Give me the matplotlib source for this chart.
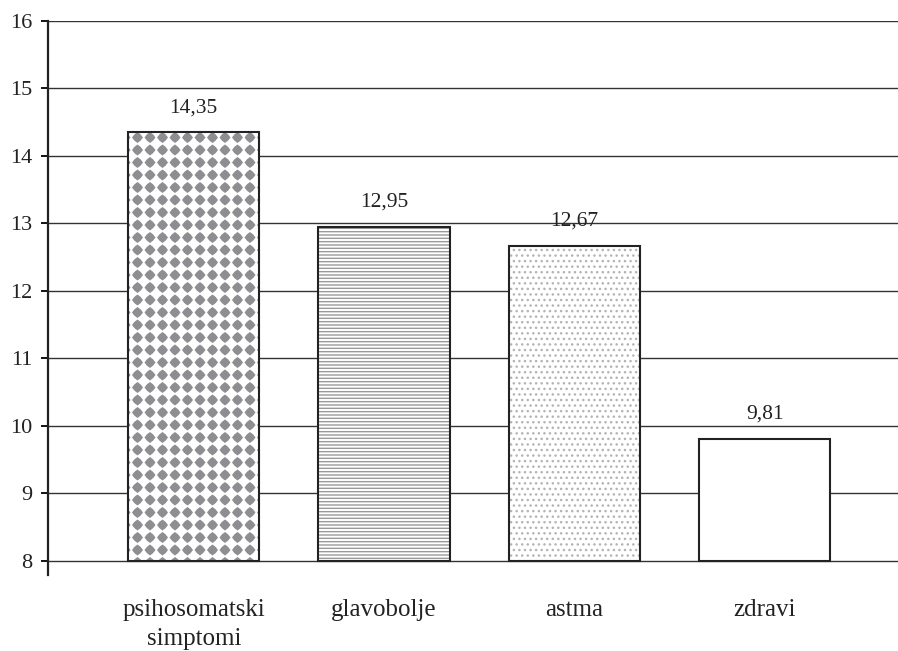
"""Bar chart: mean scores by group."""

import warnings

import numpy as np
import matplotlib
matplotlib.use("Agg")
import matplotlib.pyplot as plt
import matplotlib.hatch as mhatch
from matplotlib.path import Path

warnings.filterwarnings("ignore")

categories = ["psihosomatski\nsimptomi", "glavobolje", "astma", "zdravi"]
values = [14.35, 12.95, 12.67, 9.81]
y_ticks = [8, 9, 10, 11, 12, 13, 14, 15, 16]
base = 8


class SquareDots(mhatch.HatchPatternBase):
    """Filled rounded diamonds on a square grid, hatch letter 'd'."""

    size = 0.37

    def __init__(self, hatch, density):
        self.num_rows = hatch.count('d') * 8
        self.num_vertices = (self.num_rows + 1) ** 2 * 9 if self.num_rows else 0

    def set_vertices_and_codes(self, vertices, codes):
        n = self.num_rows
        step = 1.0 / n
        r = self.size * step
        ang = np.linspace(-np.pi / 2, 1.5 * np.pi, 9)
        rad = np.where(np.arange(9) % 2 == 0, r, 0.8 * r)
        shape = np.column_stack([rad * np.cos(ang), rad * np.sin(ang)])
        shape_codes = [Path.MOVETO] + [Path.LINETO] * 7 + [Path.CLOSEPOLY]
        k = 0
        for i in range(n + 1):
            for j in range(n + 1):
                vertices[k:k + 9] = shape + [j * step, i * step]
                codes[k:k + 9] = shape_codes
                k += 9


mhatch._hatch_types.append(SquareDots)

plt.rcParams['font.family'] = ['Liberation Serif', 'DejaVu Serif']
text_color = '#222222'

fig = plt.figure(figsize=(8.98, 6.51), dpi=100)
ax = fig.add_axes([48 / 898, 1 - 575 / 651, 1 - 48 / 898, (575 - 21) / 651])

x = np.arange(len(categories))
heights = np.array(values) - base
hatches = ['d', '-----', '...', '']
hatch_colors = ['#8e8e92', '#9a9a9a', '#b4b4b4', 'white']

# hatch layer (hatch colour follows edgecolor), then outline on top
fill = ax.bar(x, heights, bottom=base, width=0.69, color='white',
              edgecolor=hatch_colors, linewidth=0, zorder=2)
for patch, h in zip(fill.patches, hatches):
    patch.set_hatch(h)
ax.bar(x, heights, bottom=base, width=0.69, facecolor='none',
       edgecolor=text_color, linewidth=1.5, zorder=3)

for xi, v in zip(x, values):
    ax.annotate(f"{v:.2f}".replace('.', ','), (xi, v), xytext=(0, 11),
                textcoords='offset points', ha='center', va='bottom',
                fontsize=15.5, color=text_color)

ax.set_ylim(7.79, 16)
ax.set_xlim(-0.766, 3.70)
ax.set_yticks(y_ticks)
ax.set_xticks(x)
ax.set_xticklabels(categories, fontsize=18, color=text_color, linespacing=1.45)
ax.tick_params(axis='y', direction='out', length=5, width=1.3,
               labelsize=16, labelcolor=text_color, pad=6)
ax.tick_params(axis='x', length=0, pad=17)

ax.yaxis.grid(True, color='#333333', linewidth=1.0, zorder=0)
ax.set_axisbelow(True)
for side in ['top', 'right', 'bottom']:
    ax.spines[side].set_visible(False)
ax.spines['left'].set_linewidth(1.6)
ax.spines['left'].set_color(text_color)

plt.savefig('out.png', dpi=100)
plt.close()
